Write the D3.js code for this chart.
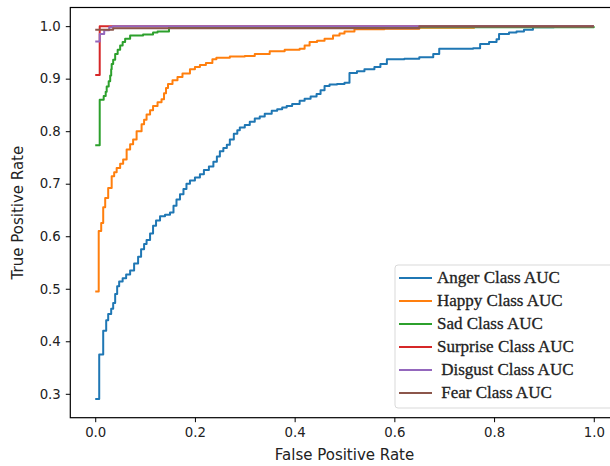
<!DOCTYPE html>
<html>
<head>
<meta charset="utf-8">
<script src="https://cdn.jsdelivr.net/npm/d3@7"></script>
<style>
  body { margin: 0; background: #fff; }
  #vis { width: 610px; height: 466px; }
  text { font-family: 'DejaVu Sans', sans-serif; }
  .legend text { font-family: 'Liberation Serif', serif; white-space: pre; }
</style>
</head>
<body>
<div id="vis"></div>
<script>
// ROC points [false positive rate, true positive rate]
const anger = [
  [0, 0.29], [0.008, 0.375], [0.016, 0.42], [0.022, 0.44], [0.026, 0.452], [0.032, 0.462],
  [0.036, 0.473], [0.040, 0.49], [0.044, 0.505], [0.048, 0.514], [0.055, 0.52], [0.062, 0.527],
  [0.07, 0.535], [0.078, 0.548], [0.086, 0.561], [0.092, 0.575], [0.098, 0.585], [0.103, 0.593],
  [0.11, 0.605], [0.116, 0.62], [0.122, 0.63], [0.13, 0.638], [0.14, 0.641], [0.15, 0.645],
  [0.157, 0.658], [0.163, 0.67], [0.17, 0.68], [0.177, 0.69], [0.183, 0.70], [0.19, 0.706],
  [0.2, 0.712], [0.21, 0.718], [0.218, 0.726], [0.228, 0.733], [0.237, 0.742], [0.244, 0.752],
  [0.25, 0.762], [0.257, 0.768], [0.264, 0.774], [0.27, 0.784], [0.278, 0.795], [0.285, 0.802],
  [0.29, 0.807], [0.30, 0.812], [0.31, 0.818], [0.32, 0.824], [0.33, 0.828], [0.34, 0.833],
  [0.354, 0.839], [0.365, 0.842], [0.375, 0.845], [0.384, 0.848], [0.395, 0.852], [0.41, 0.858],
  [0.42, 0.862], [0.432, 0.866], [0.444, 0.871], [0.452, 0.878], [0.46, 0.886], [0.47, 0.889],
  [0.485, 0.89], [0.50, 0.892], [0.51, 0.911], [0.525, 0.914], [0.54, 0.918], [0.56, 0.922],
  [0.572, 0.928], [0.585, 0.937], [0.62, 0.938], [0.65, 0.941], [0.678, 0.947], [0.69, 0.957],
  [0.72, 0.957], [0.758, 0.958], [0.772, 0.966], [0.79, 0.97], [0.805, 0.975], [0.81, 0.985],
  [0.83, 0.988], [0.845, 0.99], [0.86, 0.993], [0.878, 0.998], [0.92, 1.0], [1.0, 1.0]
];
const happy = [
  [0, 0.495], [0.007, 0.61], [0.012, 0.625], [0.016, 0.655], [0.02, 0.673], [0.026, 0.692],
  [0.033, 0.714], [0.038, 0.722], [0.043, 0.73], [0.05, 0.738], [0.056, 0.746], [0.063, 0.765],
  [0.07, 0.775], [0.076, 0.784], [0.083, 0.80], [0.093, 0.813], [0.098, 0.822], [0.103, 0.832],
  [0.11, 0.84], [0.116, 0.848], [0.125, 0.855], [0.133, 0.861], [0.138, 0.872], [0.142, 0.882],
  [0.146, 0.89], [0.155, 0.897], [0.165, 0.903], [0.175, 0.91], [0.19, 0.918], [0.2, 0.922],
  [0.21, 0.926], [0.222, 0.93], [0.235, 0.937], [0.243, 0.94], [0.27, 0.942], [0.30, 0.943],
  [0.32, 0.947], [0.35, 0.952], [0.38, 0.955], [0.41, 0.957], [0.42, 0.963], [0.43, 0.97],
  [0.445, 0.972], [0.46, 0.976], [0.477, 0.982], [0.49, 0.986], [0.5, 0.99], [0.52, 0.994],
  [0.58, 0.995], [0.65, 0.997], [0.76, 1.0], [1.0, 1.0]
];
const sad = [
  [0, 0.773], [0.009, 0.86], [0.017, 0.867], [0.021, 0.875], [0.023, 0.885], [0.027, 0.895],
  [0.03, 0.906], [0.032, 0.918], [0.033, 0.928], [0.036, 0.936], [0.04, 0.947], [0.045, 0.955],
  [0.05, 0.963], [0.055, 0.97], [0.06, 0.976], [0.07, 0.982], [0.096, 0.984], [0.116, 0.988],
  [0.125, 0.99], [0.148, 0.998], [1.0, 1.0]
];
const surprise = [[0, 0.907], [0.009, 1.0], [1.0, 1.0]];
const disgust = [[0, 0.971], [0.009, 0.985], [0.018, 0.992], [0.028, 0.998], [0.035, 1.0], [1.0, 1.0]];
const fear = [[0, 0.993], [0.036, 0.996], [0.65, 1.0], [1.0, 1.0]];

const labels = ['Anger Class AUC', 'Happy Class AUC', 'Sad Class AUC',
                'Surprise Class AUC', ' Disgust Class AUC', ' Fear Class AUC'];
const colors = ['#1f77b4', '#ff7f0e', '#2ca02c', '#d62728', '#9467bd', '#8c564b'];
const xTicks = [0, 0.2, 0.4, 0.6, 0.8, 1.0];
const yTicks = [0.3, 0.4, 0.5, 0.6, 0.7, 0.8, 0.9, 1.0];

const curves = [anger, happy, sad, surprise, disgust, fear];

const svg = d3.select('#vis')
              .append('svg')
                .attr('width', 610)
                .attr('height', 466);

const box = { left: 70.3, right: 618.7, top: 7.5, bottom: 417.7 };

const x = d3.scaleLinear().domain([-0.05, 1.05]).range([box.left, box.right]);
const y = d3.scaleLinear().domain([0.2545, 1.0355]).range([box.bottom, box.top]);

const line = d3.line()
               .x(d => x(d[0]))
               .y(d => y(d[1]))
               .curve(d3.curveStepAfter);

svg.append('g')
  .selectAll('path')
  .data(curves)
  .enter()
  .append('path')
    .attr('d', line)
    .attr('fill', 'none')
    .attr('stroke', (d, i) => colors[i])
    .attr('stroke-width', 2)
    .attr('stroke-linejoin', 'round');

// axes
const xAxis = d3.axisBottom(x).tickValues(xTicks).tickFormat(d3.format('.1f')).tickSizeOuter(0).tickSize(4.5).tickPadding(5);
const yAxis = d3.axisLeft(y).tickValues(yTicks).tickFormat(d3.format('.1f')).tickSizeOuter(0).tickSize(4.5).tickPadding(5);

svg.append('g')
    .attr('transform', 'translate(0,' + box.bottom + ')')
    .call(xAxis);

svg.append('g')
    .attr('transform', 'translate(' + box.left + ',0)')
    .call(yAxis);

svg.selectAll('.tick text')
    .attr('font-size', 13.3)
    .attr('font-family', 'DejaVu Sans')
    .attr('fill', '#222');
svg.selectAll('.domain').remove();
svg.selectAll('.tick line').attr('stroke', '#000').attr('stroke-width', 1);

// spines
svg.append('rect')
    .attr('x', box.left)
    .attr('y', box.top)
    .attr('width', box.right - box.left)
    .attr('height', box.bottom - box.top)
    .attr('fill', 'none')
    .attr('stroke', '#000')
    .attr('stroke-width', 1.2);

svg.append('text')
    .attr('x', (box.left + box.right) / 2)
    .attr('y', 460)
    .attr('text-anchor', 'middle')
    .attr('font-size', 15)
    .attr('fill', '#222')
    .text('False Positive Rate');

svg.append('text')
    .attr('transform', 'translate(23,' + ((box.top + box.bottom) / 2) + ') rotate(-90)')
    .attr('text-anchor', 'middle')
    .attr('font-size', 15)
    .attr('fill', '#222')
    .text('True Positive Rate');

// legend
const legend = svg.append('g').attr('class', 'legend');

legend.append('rect')
    .attr('x', 395)
    .attr('y', 265)
    .attr('width', 230)
    .attr('height', 143)
    .attr('rx', 3)
    .attr('fill', '#fff')
    .attr('fill-opacity', 0.8)
    .attr('stroke', '#d9d9d9');

const rows = legend.selectAll('g.row')
  .data(labels)
  .enter()
  .append('g')
    .attr('class', 'row')
    .attr('transform', (d, i) => 'translate(0,' + (278 + i * 23) + ')');

rows.append('line')
    .attr('x1', 399)
    .attr('x2', 432)
    .attr('stroke', (d, i) => colors[i])
    .attr('stroke-width', 2);

rows.append('text')
    .attr('x', 437)
    .attr('dy', '0.3em')
    .attr('font-size', 17)
    .attr('fill', '#222')
    .attr('stroke', '#222')
    .attr('stroke-width', 0.3)
    .text(d => d);
</script>
</body>
</html>
